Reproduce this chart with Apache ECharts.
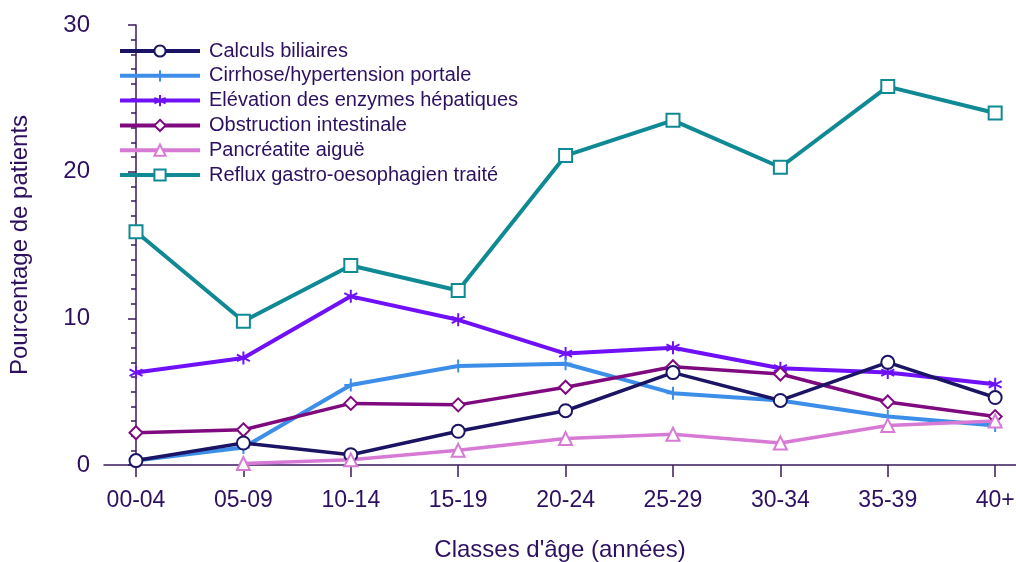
<!DOCTYPE html>
<html style="height: 100%">
<head>
<meta charset="utf-8">
</head>
<body style="height: 100%; margin: 0; background: #fff">
<div id="container" style="width:1016px;height:562px"></div>
<script src="https://cdn.jsdelivr.net/npm/echarts@6/dist/echarts.min.js"></script>
<script type="text/javascript">
// classes d'âge
var ages = ['00-04', '05-09', '10-14', '15-19', '20-24', '25-29', '30-34', '35-39', '40+'];

// pourcentage de patients par classe
var calculs     = [0.3, 1.5, 0.7, 2.3, 3.7, 6.3, 4.4, 7.0, 4.6];
var cirrhose    = [0.3, 1.2, 5.45, 6.75, 6.9, 4.9, 4.4, 3.3, 2.7];
var enzymes     = [6.3, 7.3, 11.5, 9.9, 7.6, 8.0, 6.6, 6.3, 5.5];
var obstruction = [2.2, 2.4, 4.2, 4.1, 5.3, 6.7, 6.2, 4.3, 3.3];
var pancreatite = [null, 0.1, 0.35, 1.0, 1.8, 2.1, 1.5, 2.7, 3.0];
var reflux      = [15.9, 9.8, 13.6, 11.9, 21.1, 23.5, 20.3, 25.8, 24.0];

var txt = '#2d1060';
var font = "'Liberation Sans', Arial, sans-serif";

function pts(arr) {
    var out = [];
    arr.forEach(function (v, i) {
        if (v !== null) out.push([i, v]);
    });
    return out;
}

function mk(name, arr, color, symbol, size, width) {
    return {
        name: name,
        type: 'line',
        data: pts(arr),
        symbol: symbol,
        symbolSize: size,
        showSymbol: true,
        lineStyle: { color: color, width: width },
        itemStyle: { color: color, borderColor: color, borderWidth: 2 },
        emphasis: { disabled: true }
    };
}

var plus = 'path://M5,0L5,10M0,5L10,5';
var star = 'path://M5,0L5,10M0.7,2.5L9.3,7.5M0.7,7.5L9.3,2.5';

var myChart = echarts.init(document.getElementById('container'));
var idx = ages.map(function (a, i) { return i; });

var option = {
    animation: false,
    textStyle: { fontFamily: font },
    grid: { left: 104, right: 0, top: 25, bottom: 97, outerBoundsMode: 'none', containLabel: false },
    legend: {
        orient: 'vertical',
        left: 113,
        top: 36,
        itemWidth: 80,
        itemHeight: 14,
        itemGap: 4.8,
        lineStyle: { width: 4 },
        textStyle: { fontSize: 20, color: txt, fontFamily: font, padding: [0, 0, 0, 4] },
        data: ['Calculs biliaires', 'Cirrhose/hypertension portale', 'Elévation des enzymes hépatiques',
               'Obstruction intestinale', 'Pancréatite aiguë', 'Reflux gastro-oesophagien traité']
    },
    xAxis: {
        type: 'value',
        min: -0.298,
        max: 8.194,
        name: "Classes d'âge (années)",
        nameLocation: 'middle',
        nameGap: 73,
        nameTextStyle: { fontSize: 24, color: txt, fontFamily: font },
        splitLine: { show: false },
        axisLine: { lineStyle: { color: '#3a1a5e', width: 1.5 } },
        axisTick: { show: true, customValues: idx, length: 12, lineStyle: { color: '#3a1a5e', width: 1.5 } },
        axisLabel: {
            customValues: idx,
            margin: 24,
            fontSize: 23,
            color: txt,
            fontFamily: font,
            formatter: function (v) { return ages[Math.round(v)]; }
        }
    },
    yAxis: {
        type: 'value',
        min: 0,
        max: 30,
        interval: 10,
        name: 'Pourcentage de patients',
        nameLocation: 'middle',
        nameGap: 72,
        nameTextStyle: { fontSize: 24, color: txt, fontFamily: font },
        splitLine: { show: false },
        axisLine: { show: true, lineStyle: { color: '#3a1a5e', width: 1.5 } },
        axisTick: { show: true, length: 8, lineStyle: { color: '#3a1a5e', width: 1.5 } },
        minorTick: { show: true, splitNumber: 10, length: 5, lineStyle: { color: '#3a1a5e', width: 1.5 } },
        axisLabel: { margin: 14, fontSize: 24, color: txt, fontFamily: font }
    },
    series: [
        mk('Reflux gastro-oesophagien traité', reflux, '#0f8a94', 'emptyRect', 13, 4),
        mk('Elévation des enzymes hépatiques', enzymes, '#6f10f8', star, 13, 4),
        mk('Cirrhose/hypertension portale', cirrhose, '#3d8ee8', plus, 13, 4),
        mk('Obstruction intestinale', obstruction, '#7f0a7f', 'emptyDiamond', 13, 3.5),
        mk('Calculs biliaires', calculs, '#1b1464', 'emptyCircle', 13, 3.5),
        mk('Pancréatite aiguë', pancreatite, '#d67ad6', 'emptyTriangle', 13, 3.5)
    ]
};

myChart.setOption(option);
</script>
</body>
</html>
